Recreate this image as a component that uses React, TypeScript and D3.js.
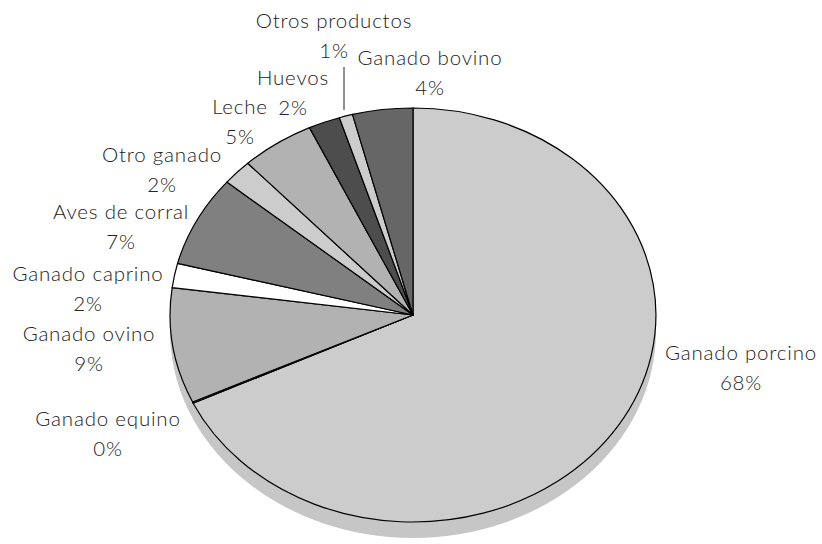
import React from "react";
import * as d3 from "d3";

const categories = [
  "Ganado porcino",
  "Ganado equino",
  "Ganado ovino",
  "Ganado caprino",
  "Aves de corral",
  "Otro ganado",
  "Leche",
  "Huevos",
  "Otros productos",
  "Ganado bovino",
];
const values = [68.0, 0.1, 9.0, 1.9, 7.1, 2.0, 4.9, 2.1, 0.9, 4.0];
const percentLabels = ["68%", "0%", "9%", "2%", "7%", "2%", "5%", "2%", "1%", "4%"];
const fills = ["#cccccc", "#999999", "#b2b2b2", "#ffffff", "#808080", "#cccccc", "#b2b2b2", "#4d4d4d", "#cccccc", "#666666"];

// label anchor (center of first line)
const labelPos: [number, number][] = [
  [741, 352],
  [108, 418],
  [89, 333],
  [88, 273],
  [121, 211],
  [162, 154],
  [240, 106],
  [293, 77],
  [334, 20],
  [430, 57],
];

const W = 822;
const H = 544;
const cx = 413;
const cy = 315;
const rx = 243;
const ry = 207;
const depth = 16;

export default function App() {
  const pie = d3
    .pie<number>()
    .sort(null)
    .value((d) => d)
    .startAngle(0)
    .endAngle(2 * Math.PI);
  const arcs = pie(values);
  const arc = d3.arc<d3.PieArcDatum<number>>().innerRadius(0).outerRadius(1);
  const lineH = 29.5;

  return (
    <svg width={W} height={H} style={{ position: "absolute", left: 0, top: 0 }}>
      <rect width={W} height={H} fill="#ffffff" />
      <ellipse cx={cx} cy={cy + depth} rx={rx} ry={ry} fill="#c6c6c6" />
      <g transform={`translate(${cx},${cy}) scale(${rx},${ry})`}>
        {arcs.map((a, i) => (
          <path
            key={i}
            d={arc(a) || ""}
            fill={fills[i]}
            stroke="#000"
            strokeWidth={1.2}
            vectorEffect="non-scaling-stroke"
            strokeLinejoin="round"
          />
        ))}
      </g>
      <line x1={344} y1={67} x2={344} y2={110} stroke="#222" strokeWidth={1} />
      <g fontFamily="'Lato', 'Open Sans', sans-serif" fontWeight={300} fontSize={20.5} letterSpacing={0.8} fill="#222">
        {categories.map((c, i) => (
          <g key={c}>
            <text x={labelPos[i][0]} y={labelPos[i][1]} textAnchor="middle" dominantBaseline="central">
              {c}
            </text>
            <text x={labelPos[i][0]} y={labelPos[i][1] + lineH} textAnchor="middle" dominantBaseline="central">
              {percentLabels[i]}
            </text>
          </g>
        ))}
      </g>
    </svg>
  );
}
